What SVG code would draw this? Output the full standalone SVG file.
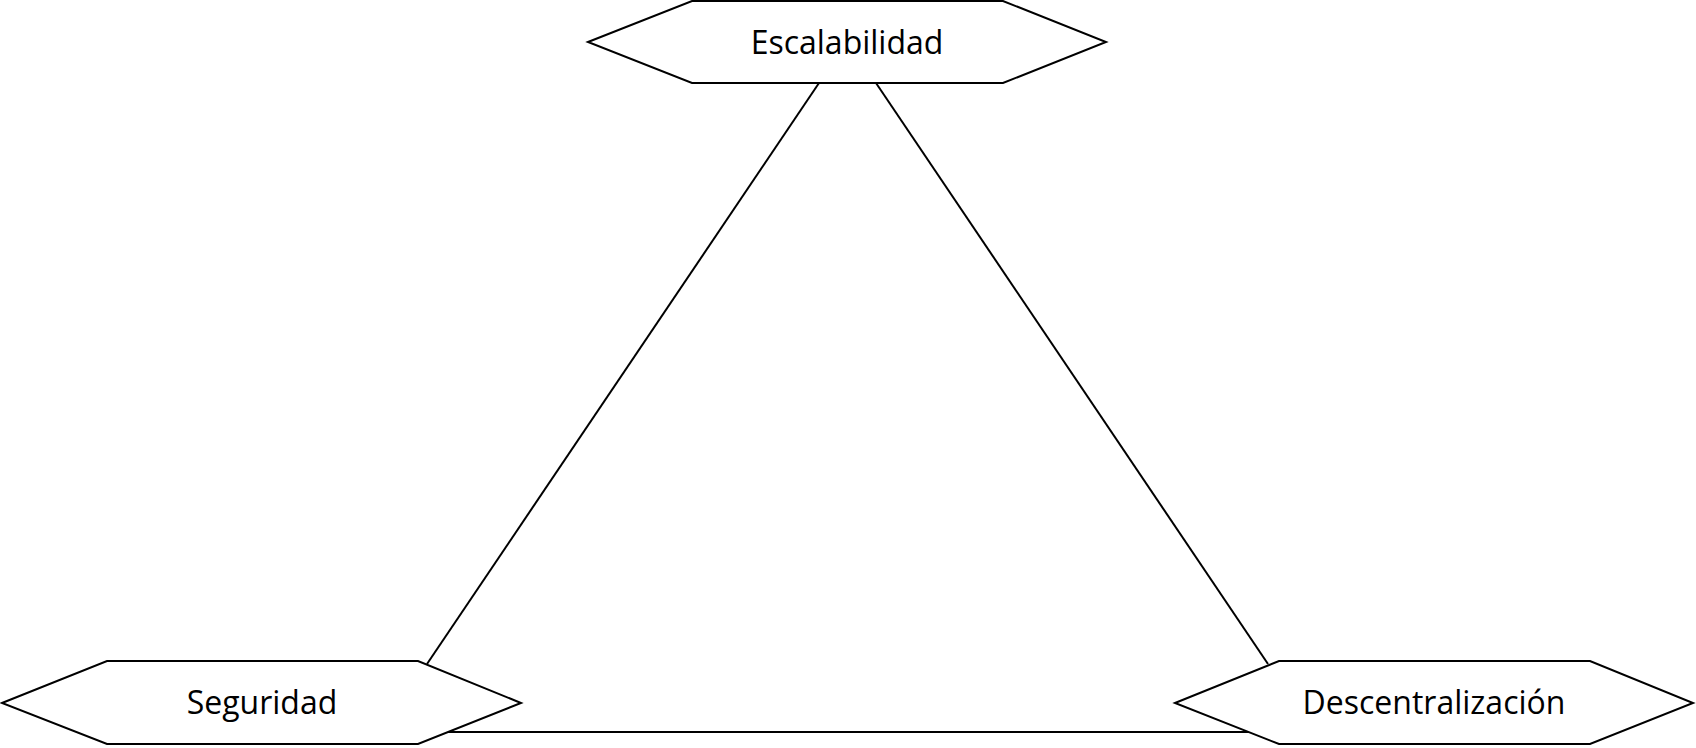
<svg xmlns="http://www.w3.org/2000/svg" width="1696" height="748" viewBox="0 0 1696 748">
<style>
.node{fill:#fff;stroke:#000;stroke-width:2;stroke-linejoin:miter}
.lbl{font-family:"Open Sans","Noto Sans","Liberation Sans",sans-serif;font-size:32px;fill:#000;text-anchor:middle}
.conn{stroke:#000;stroke-width:2;fill:none}
</style>
<rect width="1696" height="748" fill="#fff"/>
<g id="connectors">
<line class="conn" x1="819" y1="83" x2="427" y2="664"/>
<line class="conn" x1="876" y1="83" x2="1268" y2="664"/>
<line class="conn" x1="445" y1="732" x2="1250" y2="732"/>
</g>
<g id="escalabilidad">
<polygon class="node" points="588,42 692,1 1003,1 1106,42 1003,83 692,83"/>
<text class="lbl" x="847" y="54">Escalabilidad</text>
</g>
<g id="seguridad">
<polygon class="node" points="2,703 107,661 418,661 521,703 418,744 107,744"/>
<text class="lbl" x="262" y="714">Seguridad</text>
</g>
<g id="descentralizacion">
<polygon class="node" points="1175,703 1279,661 1590,661 1693,703 1590,744 1279,744"/>
<text class="lbl" x="1434" y="714">Descentralización</text>
</g>
</svg>
